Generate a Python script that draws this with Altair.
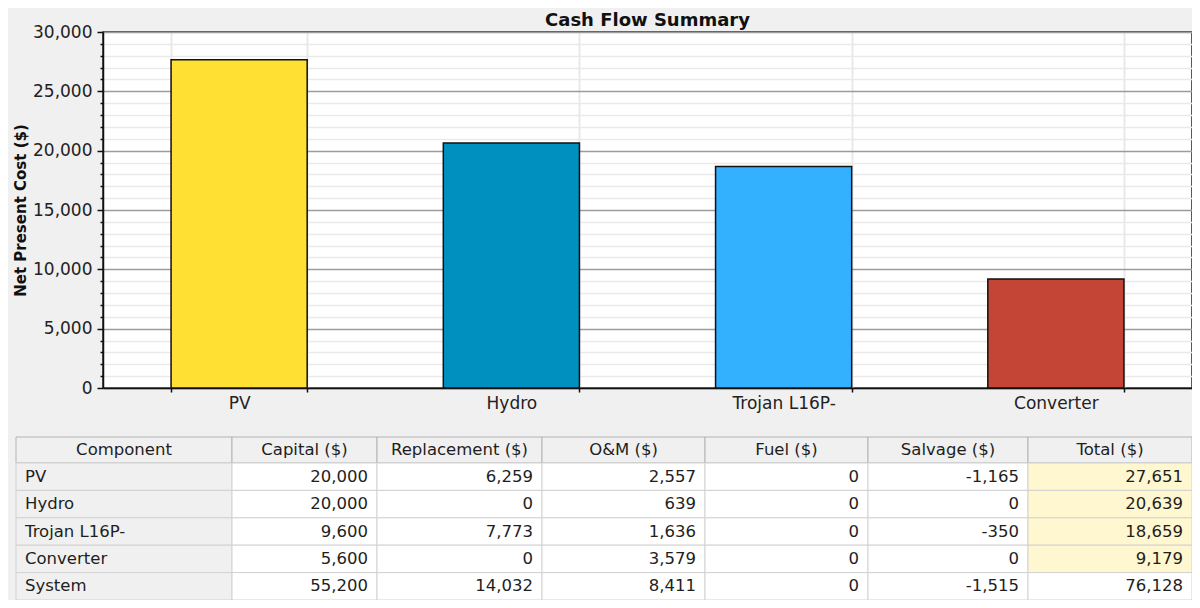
import altair as alt
import pandas as pd

# ---------------- data ----------------
components = ["PV", "Hydro", "Trojan L16P-", "Converter"]
bar_colors = ["#FFE033", "#0090C0", "#33B1FF", "#C44536"]

table_header = ["Component", "Capital ($)", "Replacement ($)", "O&M ($)",
                "Fuel ($)", "Salvage ($)", "Total ($)"]
table_rows = ["PV", "Hydro", "Trojan L16P-", "Converter", "System"]
capital = [20000, 20000, 9600, 5600, 55200]
replacement = [6259, 0, 7773, 0, 14032]
om = [2557, 639, 1636, 3579, 8411]
fuel = [0, 0, 0, 0, 0]
salvage = [-1165, 0, -350, 0, -1515]
total = [27651, 20639, 18659, 9179, 76128]

# ---------------- layout (pixels) ----------------
PLOT_W, PLOT_H = 1089, 356
PAD = {"left": 95, "top": 24, "right": 0, "bottom": 212}
TABLE_LEFT = -87          # table left edge relative to plot left
TABLE_TOP = 405           # table top relative to plot top
COL_W = [216, 145, 165, 163, 163, 160, 164]
HEAD_H = 26
ROW_H = 27.4
CELL_PAD = 9
FONT = "DejaVu Sans"

# ---------------- bar chart ----------------
bars_df = pd.DataFrame({"component": components, "npc": total[:len(components)]})

y_axis = alt.Axis(
    title="Net Present Cost ($)",
    values=list(range(0, 30001, 1000)),
    labelExpr="datum.value % 5000 === 0 ? format(datum.value, ',') : ''",
    labelOverlap=False, labelFlush=False,
    labelFont=FONT, labelFontSize=17, labelColor="#222", labelPadding=5,
    grid=True,
    gridColor={"condition": {"test": "datum.value % 5000 === 0", "value": "#9c9c9c"},
               "value": "#e9e9e9"},
    gridWidth=1.5,
    tickSize={"condition": {"test": "datum.value % 5000 === 0", "value": 6}, "value": 3},
    tickColor="#111", tickWidth=1.5,
    domainColor="#111", domainWidth=1.5,
    titleFont=FONT, titleFontSize=15, titleFontWeight="bold", titleColor="#111",
    titlePadding=4,
)

x_axis = alt.Axis(
    title=None, labelAngle=0, labelFont=FONT, labelFontSize=17, labelColor="#222",
    labelPadding=3, tickBand="extent", ticks=True, tickSize=4, tickColor="#111",
    tickWidth=1.5, grid=True, gridColor="#e9e9e9", gridWidth=2,
    domainColor="#111", domainWidth=1.5,
)

bars = alt.Chart(bars_df).mark_bar(stroke="#111", strokeWidth=1.5).encode(
    x=alt.X("component:N", sort=components, axis=x_axis,
            scale=alt.Scale(domain=components, paddingInner=0.5, paddingOuter=0.25)),
    y=alt.Y("npc:Q", axis=y_axis, scale=alt.Scale(domain=[0, 30000], nice=False)),
    color=alt.Color("component:N", legend=None,
                    scale=alt.Scale(domain=components, range=bar_colors)),
)

# ---------------- table ----------------
edges = [0]
for w in COL_W:
    edges.append(edges[-1] + w)

cells = []
for c, name in enumerate(table_header):
    cells.append(dict(x0=edges[c], x1=edges[c + 1], y0=TABLE_TOP, y1=TABLE_TOP + HEAD_H,
                      kind="header", text=name, align="center"))
series = [capital, replacement, om, fuel, salvage, total]
for r, rname in enumerate(table_rows):
    y0 = TABLE_TOP + HEAD_H + r * ROW_H
    cells.append(dict(x0=edges[0], x1=edges[1], y0=y0, y1=y0 + ROW_H,
                      kind="label", text=rname, align="left"))
    for c, s in enumerate(series, start=1):
        kind = "total" if (c == len(series) and rname != "System") else "cell"
        cells.append(dict(x0=edges[c], x1=edges[c + 1], y0=y0, y1=y0 + ROW_H,
                          kind=kind, text=f"{s[r]:,}", align="right"))

tdf = pd.DataFrame(cells)
tdf["ty"] = (tdf["y0"] + tdf["y1"]) / 2
tdf["tx"] = [
    (row.x0 + CELL_PAD) if row.align == "left"
    else (row.x1 - CELL_PAD) if row.align == "right"
    else (row.x0 + row.x1) / 2
    for row in tdf.itertuples()
]

tx_scale = alt.Scale(domain=[-TABLE_LEFT, -TABLE_LEFT + PLOT_W], nice=False, zero=False)
ty_scale = alt.Scale(domain=[0, PLOT_H], nice=False, zero=False, reverse=True)

base = alt.Chart(tdf)
cell_rects = base.mark_rect(strokeWidth=1).encode(
    x=alt.X("x0:Q", scale=tx_scale, axis=None),
    x2="x1:Q",
    y=alt.Y("y0:Q", scale=ty_scale, axis=None),
    y2="y1:Q",
    fill=alt.Fill("kind:N", legend=None,
                  scale=alt.Scale(domain=["header", "label", "cell", "total"],
                                  range=["#f0f0f0", "#f0f0f0", "#ffffff", "#fff7cf"])),
    stroke=alt.condition(alt.datum.kind == "header", alt.value("#b4b4b4"), alt.value("#d2d2d2")),
)


def text_layer(al):
    return base.transform_filter(alt.datum.align == al).mark_text(
        align=al, baseline="middle", font=FONT, fontSize=16.5, color="#1e1e1e"
    ).encode(
        x=alt.X("tx:Q", scale=tx_scale, axis=None),
        y=alt.Y("ty:Q", scale=ty_scale, axis=None),
        text="text:N",
    )


table = alt.layer(cell_rects, text_layer("left"), text_layer("right"), text_layer("center"))

chart = alt.layer(bars, table).resolve_scale(
    x="independent", y="independent", color="independent"
).properties(
    width=PLOT_W, height=PLOT_H,
    padding=PAD,
    autosize=alt.AutoSizeParams(type="none"),
    background="#f0f0f0",
    title=alt.TitleParams("Cash Flow Summary", font=FONT, fontSize=18, fontWeight="bold",
                          color="#111", anchor="middle", offset=-7),
).configure_view(fill="white", stroke="#222", strokeWidth=1.5)

chart.save("out.html", embed_options={"renderer": "svg", "actions": False})
